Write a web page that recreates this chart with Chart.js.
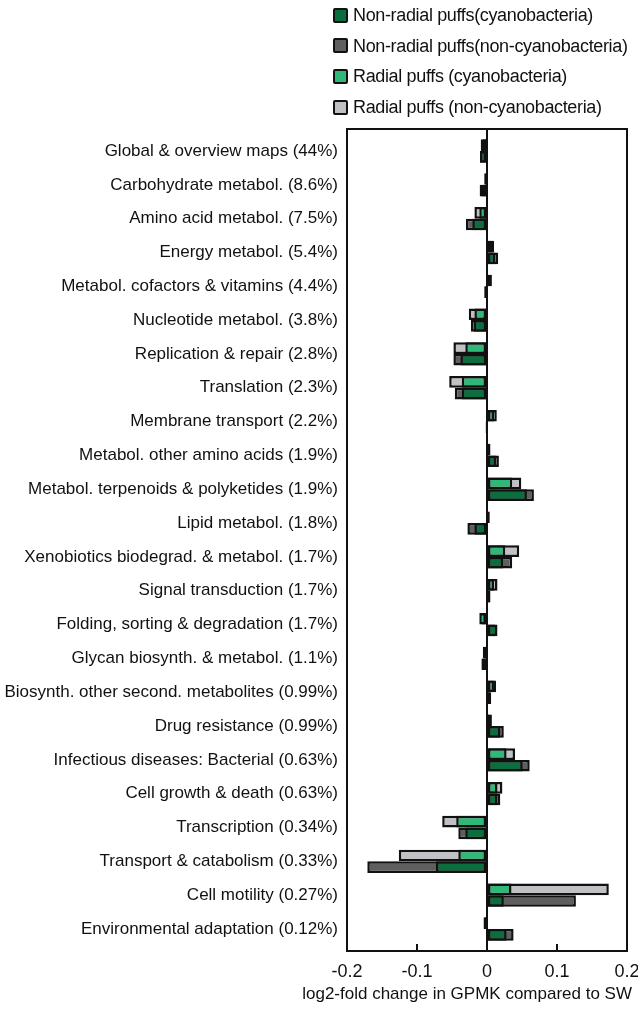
<!DOCTYPE html>
<html>
<head>
<meta charset="utf-8">
<script src="https://cdn.jsdelivr.net/npm/chart.js@4.4.1/dist/chart.umd.min.js"></script>
<style>
  html, body { margin: 0; padding: 0; background: #fff; }
  #wrap { position: relative; width: 638px; height: 1016px; font-family: "Liberation Sans", Arial, sans-serif; color: #111; }
  #chart { position: absolute; left: 0; top: 0; }
  .legend { position: absolute; left: 333px; top: 0; }
  .legend div { height: 30.7px; line-height: 30.7px; font-size: 18px; letter-spacing: -0.35px; white-space: nowrap; }
  .legend .box { display: inline-block; width: 11px; height: 11px; border: 2px solid #111; border-radius: 2px; vertical-align: middle; margin-right: 5px; position: relative; top: -1px; }
  .xtitle { position: absolute; right: 6px; top: 984px; font-size: 17px; white-space: nowrap; }
</style>
</head>
<body>
<div id="wrap">
  <canvas id="chart" width="638" height="1016"></canvas>
  <div class="legend" id="legend"></div>
  <div class="xtitle">log2-fold change in GPMK compared to SW</div>
</div>
<script>
// KEGG categories (share of reads)
const categories = [
  "Global & overview maps (44%)",
  "Carbohydrate metabol. (8.6%)",
  "Amino acid metabol. (7.5%)",
  "Energy metabol. (5.4%)",
  "Metabol. cofactors & vitamins (4.4%)",
  "Nucleotide metabol. (3.8%)",
  "Replication & repair (2.8%)",
  "Translation (2.3%)",
  "Membrane transport (2.2%)",
  "Metabol. other amino acids (1.9%)",
  "Metabol. terpenoids & polyketides (1.9%)",
  "Lipid metabol. (1.8%)",
  "Xenobiotics biodegrad. & metabol. (1.7%)",
  "Signal transduction (1.7%)",
  "Folding, sorting & degradation (1.7%)",
  "Glycan biosynth. & metabol. (1.1%)",
  "Biosynth. other second. metabolites (0.99%)",
  "Drug resistance (0.99%)",
  "Infectious diseases: Bacterial (0.63%)",
  "Cell growth & death (0.63%)",
  "Transcription (0.34%)",
  "Transport & catabolism (0.33%)",
  "Cell motility (0.27%)",
  "Environmental adaptation (0.12%)"
];

const radialCyano = [-0.006, -0.002, -0.011, 0.008, 0.005, -0.018, -0.031, -0.036, 0.010, 0.003, 0.036, 0.002,
  0.026, 0.010, -0.011, -0.004, 0.010, 0.004, 0.028, 0.015, -0.044, -0.041, 0.035, -0.003];
const radialNonCyano = [-0.009, -0.004, -0.018, 0.010, 0.007, -0.026, -0.048, -0.054, 0.014, 0.005, 0.049, 0.004,
  0.046, 0.015, -0.008, -0.006, 0.013, 0.007, 0.040, 0.022, -0.064, -0.126, 0.174, -0.005];
const nonRadialCyano = [-0.010, -0.008, -0.021, 0.012, -0.003, -0.019, -0.038, -0.036, -0.001, 0.013, 0.057, -0.018,
  0.023, 0.004, 0.015, -0.007, 0.004, 0.019, 0.051, 0.015, -0.031, -0.073, 0.024, 0.028];
const nonRadialNonCyano = [-0.010, -0.0105, -0.030, 0.016, -0.004, -0.023, -0.048, -0.046, -0.002, 0.017, 0.067, -0.028,
  0.036, 0.005, 0.012, -0.008, 0.006, 0.024, 0.061, 0.019, -0.041, -0.171, 0.127, 0.038];

const xTicks = [-0.2, -0.1, 0, 0.1, 0.2];

const darkGreen = "#0b6e3f";
const darkGray = "#5f5f5f";
const lightGreen = "#30b878";
const lightGray = "#c0c1c5";
const ink = "#111";

const legendItems = [
  { label: "Non-radial puffs(cyanobacteria)", color: darkGreen },
  { label: "Non-radial puffs(non-cyanobacteria)", color: darkGray },
  { label: "Radial puffs (cyanobacteria)", color: lightGreen },
  { label: "Radial puffs (non-cyanobacteria)", color: lightGray }
];

const legendEl = document.getElementById("legend");
legendItems.forEach((item) => {
  const row = document.createElement("div");
  const box = document.createElement("span");
  box.className = "box";
  box.style.background = item.color;
  row.appendChild(box);
  row.appendChild(document.createTextNode(item.label));
  legendEl.appendChild(row);
});

// one row per category on a linear index axis
const rows = (values) => values.map((v, i) => ({ x: v, y: i }));

const barStyle = {
  borderColor: ink,
  borderWidth: 2.5,
  borderSkipped: false,
  categoryPercentage: 0.69,
  barPercentage: 1
};

// box around the plot and small inner tick marks
const framePlugin = {
  id: "frame",
  afterDatasetsDraw(chart) {
    const { ctx, chartArea: a, scales: { x } } = chart;
    ctx.save();
    ctx.strokeStyle = ink;
    ctx.lineWidth = 2;
    ctx.strokeRect(a.left, a.top, a.right - a.left, a.bottom - a.top);
    ctx.beginPath();
    xTicks.forEach((v) => {
      const px = x.getPixelForValue(v);
      ctx.moveTo(px, a.bottom);
      ctx.lineTo(px, a.bottom - 7);
    });
    ctx.stroke();
    ctx.restore();
  }
};

new Chart(document.getElementById("chart"), {
  type: "bar",
  data: {
    datasets: [
      { label: "Radial puffs (cyanobacteria)", data: rows(radialCyano), backgroundColor: lightGreen, stack: "radial", ...barStyle },
      { label: "Radial puffs (non-cyanobacteria)", data: rows(radialNonCyano), backgroundColor: lightGray, stack: "radial", ...barStyle },
      { label: "Non-radial puffs (cyanobacteria)", data: rows(nonRadialCyano), backgroundColor: darkGreen, stack: "nonradial", ...barStyle },
      { label: "Non-radial puffs (non-cyanobacteria)", data: rows(nonRadialNonCyano), backgroundColor: darkGray, stack: "nonradial", ...barStyle }
    ]
  },
  options: {
    indexAxis: "y",
    responsive: false,
    animation: false,
    layout: { padding: { top: 129, right: 11, left: 0, bottom: 0 } },
    plugins: {
      legend: { display: false },
      tooltip: { enabled: false }
    },
    scales: {
      x: {
        type: "linear",
        min: -0.2,
        max: 0.2,
        stacked: false,
        afterBuildTicks: (s) => { s.ticks = xTicks.map((v) => ({ value: v })); },
        grid: {
          drawTicks: false,
          lineWidth: 2,
          color: (c) => (c.tick && c.tick.value === 0 ? ink : "rgba(0,0,0,0)")
        },
        border: { display: false },
        ticks: {
          padding: 10,
          color: ink,
          maxRotation: 0,
          autoSkip: false,
          font: { family: "Liberation Sans", size: 18 },
          callback: (v) => String(v)
        },
        afterFit: (s) => { s.height = 65; s.paddingLeft = 0; s.paddingRight = 0; }
      },
      y: {
        type: "linear",
        reverse: true,
        min: -0.65,
        max: 23.65,
        bounds: "data",
        offset: false,
        afterBuildTicks: (s) => { s.ticks = categories.map((_, i) => ({ value: i })); },
        grid: { display: false, drawTicks: false },
        border: { display: false },
        ticks: {
          autoSkip: false,
          padding: 9,
          color: ink,
          font: { family: "Liberation Sans", size: 17 },
          callback: (v) => categories[v]
        },
        afterFit: (s) => { s.width = 347; }
      }
    }
  },
  plugins: [framePlugin]
});
</script>
</body>
</html>
